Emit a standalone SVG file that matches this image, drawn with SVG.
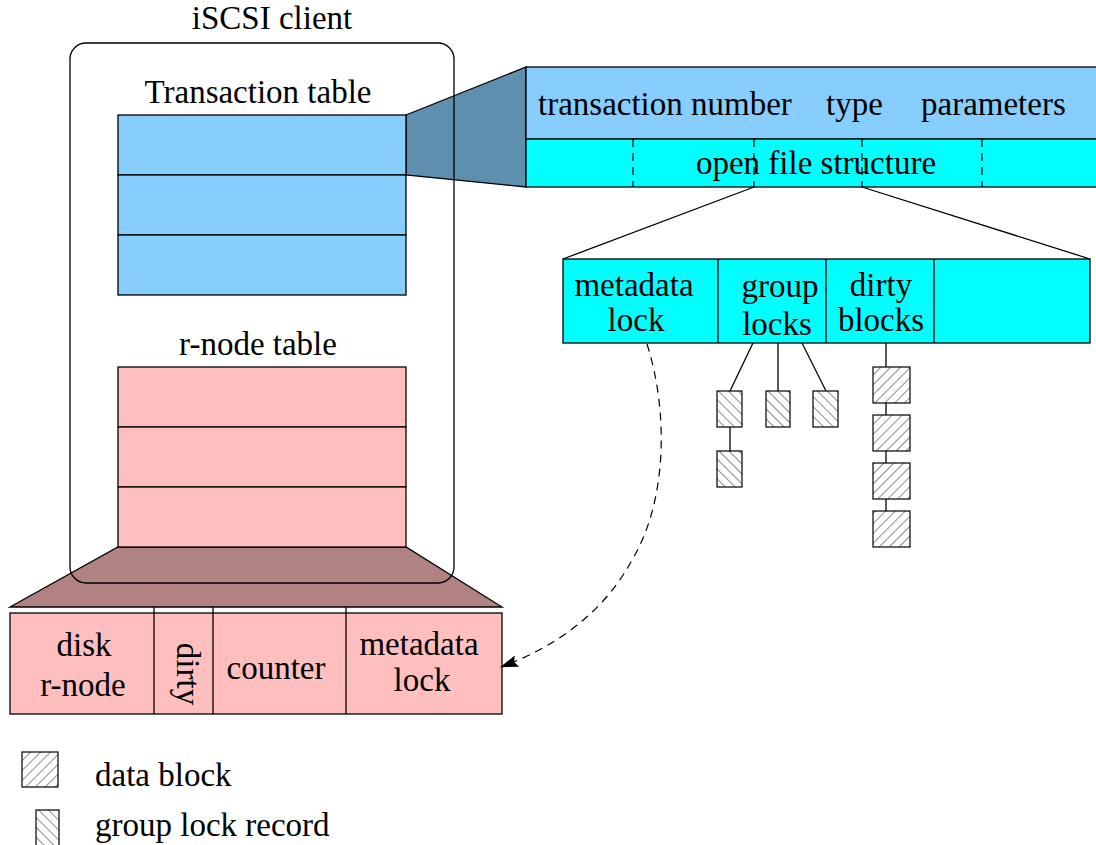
<svg xmlns="http://www.w3.org/2000/svg" width="1096" height="845" viewBox="0 0 1096 845">
<style>
text{font-family:"Liberation Serif","Times New Roman",serif;font-size:33px;fill:#000}
.m{text-anchor:middle}
.ln{stroke:#000;stroke-width:1.3;fill:none}
.blue{fill:#87ceff;stroke:#000;stroke-width:1.3}
.cyan{fill:#00ffff;stroke:#000;stroke-width:1.3}
.pink{fill:#ffbfbf;stroke:#000;stroke-width:1.3}
.dash{stroke:#000;stroke-width:1.2;stroke-dasharray:8,6;fill:none}
.db{fill:url(#hf);stroke:#000;stroke-width:1.2}
.gl{fill:url(#hb);stroke:#000;stroke-width:1.2}
</style>
<defs>
<pattern id="hf" patternUnits="userSpaceOnUse" width="7" height="7" patternTransform="rotate(45)">
<rect width="7" height="7" fill="#fff"/><line x1="0" y1="0" x2="0" y2="7" stroke="#000" stroke-width="0.9"/></pattern>
<pattern id="hb" patternUnits="userSpaceOnUse" width="7" height="7" patternTransform="rotate(-45)">
<rect width="7" height="7" fill="#fff"/><line x1="0" y1="0" x2="0" y2="7" stroke="#000" stroke-width="0.9"/></pattern>
<marker id="ah" markerWidth="18" markerHeight="12" refX="17" refY="6" orient="auto" markerUnits="userSpaceOnUse">
<path d="M0,0 L18,6 L0,12 L3,6 z" fill="#000"/></marker>
</defs>

<g id="zoom-shapes">
<polygon points="406,115 526,67 526,187 406,175" fill="#5f8faf" stroke="#000" stroke-width="1.3"/>
<polygon points="118,547 406,547 502,607 10,607" fill="#b08282" stroke="#000" stroke-width="1.3"/>
</g>

<g id="client">
<rect x="70" y="43" width="384" height="540" rx="16" ry="16" class="ln"/>
<text x="272" y="29" class="m">iSCSI client</text>
</g>

<g id="transaction-table">
<text x="258" y="103" class="m">Transaction table</text>
<rect x="118" y="115" width="288" height="60" class="blue"/>
<rect x="118" y="175" width="288" height="60" class="blue"/>
<rect x="118" y="235" width="288" height="60" class="blue"/>
</g>

<g id="rnode-table">
<text x="258" y="355" class="m">r-node table</text>
<rect x="118" y="367" width="288" height="60" class="pink"/>
<rect x="118" y="427" width="288" height="60" class="pink"/>
<rect x="118" y="487" width="288" height="60" class="pink"/>
</g>

<g id="transaction-record">
<rect x="526" y="67" width="580" height="72" class="blue"/>
<rect x="526" y="139" width="580" height="48" class="cyan"/>
<text x="538" y="115">transaction number</text>
<text x="826" y="115">type</text>
<text x="921" y="115">parameters</text>
<line x1="633" y1="139" x2="633" y2="187" class="dash"/>
<line x1="754" y1="139" x2="754" y2="187" class="dash"/>
<line x1="862" y1="139" x2="862" y2="187" class="dash"/>
<line x1="982" y1="139" x2="982" y2="187" class="dash"/>
<text x="816" y="174" class="m">open file structure</text>
</g>

<g id="open-file-structure">
<rect x="563" y="259" width="527" height="84" class="cyan"/>
<line x1="718" y1="259" x2="718" y2="343" class="ln"/>
<line x1="826" y1="259" x2="826" y2="343" class="ln"/>
<line x1="934" y1="259" x2="934" y2="343" class="ln"/>
<text x="634" y="296" class="m">metadata</text>
<text x="636" y="331" class="m">lock</text>
<text x="780" y="297" class="m">group</text>
<text x="777" y="335" class="m">locks</text>
<text x="881" y="296" class="m">dirty</text>
<text x="881" y="331" class="m">blocks</text>
</g>

<g id="group-lock-records">
<rect x="717" y="391" width="25" height="36" class="gl"/>
<rect x="717" y="451" width="25" height="36" class="gl"/>
<rect x="766" y="391" width="24" height="36" class="gl"/>
<rect x="813" y="391" width="25" height="36" class="gl"/>
</g>

<g id="dirty-data-blocks">
<rect x="873" y="367" width="37" height="36" class="db"/>
<rect x="873" y="415" width="37" height="36" class="db"/>
<rect x="873" y="463" width="37" height="36" class="db"/>
<rect x="873" y="511" width="37" height="36" class="db"/>
</g>

<g id="rnode-record">
<rect x="10" y="613" width="492" height="101" class="pink"/>
<line x1="154" y1="607" x2="154" y2="714" class="ln"/>
<line x1="213" y1="607" x2="213" y2="714" class="ln"/>
<line x1="346" y1="607" x2="346" y2="714" class="ln"/>
<text x="84" y="656" class="m">disk</text>
<text x="83" y="696" class="m">r-node</text>
<text x="0" y="0" class="m" transform="translate(177,674) rotate(90)">dirty</text>
<text x="276" y="679" class="m">counter</text>
<text x="419" y="655" class="m">metadata</text>
<text x="422" y="691" class="m">lock</text>
</g>

<g id="connectors">
<line x1="754" y1="187" x2="563" y2="259" class="ln"/>
<line x1="862" y1="187" x2="1090" y2="259" class="ln"/>
<line x1="753" y1="343" x2="730" y2="391" class="ln"/>
<line x1="778" y1="343" x2="778" y2="391" class="ln"/>
<line x1="802" y1="343" x2="826" y2="391" class="ln"/>
<line x1="730" y1="427" x2="730" y2="451" class="ln"/>
<line x1="886" y1="343" x2="886" y2="367" class="ln"/>
<line x1="886" y1="403" x2="886" y2="415" class="ln"/>
<line x1="886" y1="451" x2="886" y2="463" class="ln"/>
<line x1="886" y1="499" x2="886" y2="511" class="ln"/>
<path d="M647,344 C668,410 668,500 632,560 C605,610 560,645 501,667" class="dash" marker-end="url(#ah)"/>
</g>

<g id="legend">
<rect x="22" y="752" width="36" height="35" class="db"/>
<text x="95" y="786">data block</text>
<rect x="36" y="810" width="23" height="36" class="gl"/>
<text x="95" y="836">group lock record</text>
</g>
</svg>
